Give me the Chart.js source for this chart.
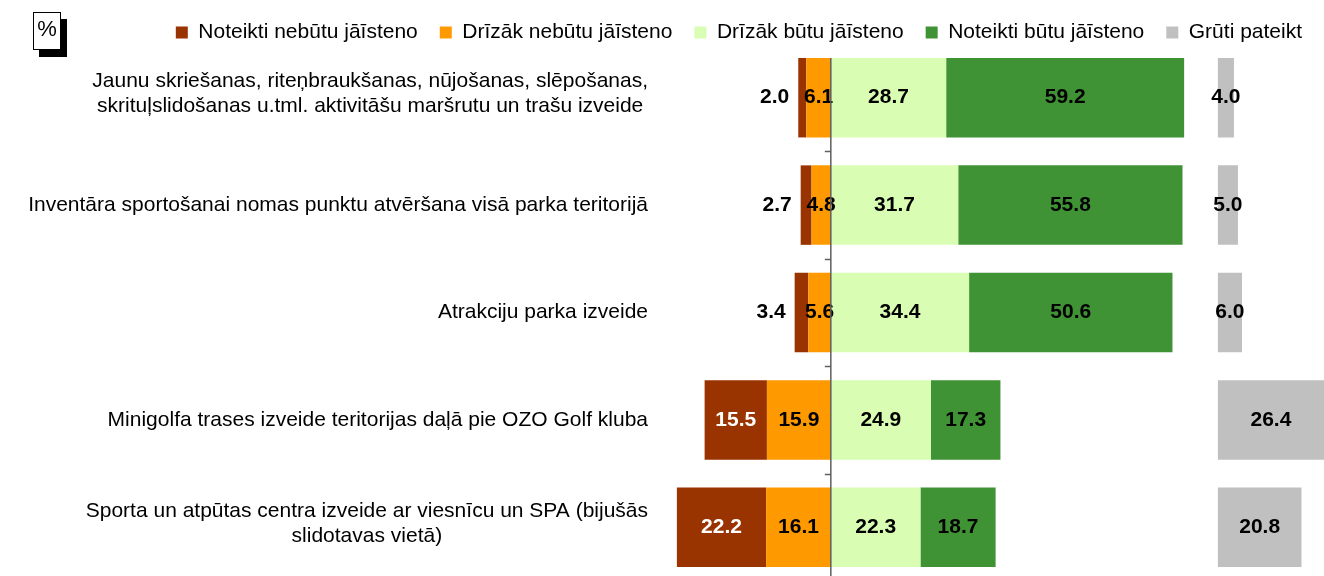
<!DOCTYPE html>
<html>
<head>
<meta charset="utf-8">
<script src="https://cdn.jsdelivr.net/npm/chart.js@4.4.0/dist/chart.umd.min.js"></script>
<style>
  html, body { margin: 0; padding: 0; background: #fff; overflow: hidden; }
  #wrap { width: 1324px; height: 576px; overflow: hidden; }
  #wrap canvas { display: block; }
</style>
</head>
<body>
<div id="wrap"><canvas id="barChart" width="1324" height="581"></canvas></div>
<script>
// kategorijas (pa rindām)
const categories = [
  ['Jaunu skriešanas, riteņbraukšanas, nūjošanas, slēpošanas,', 'skrituļslidošanas u.tml. aktivitāšu maršrutu un trašu izveide'],
  'Inventāra sportošanai nomas punktu atvēršana visā parka teritorijā',
  'Atrakciju parka izveide',
  'Minigolfa trases izveide teritorijas daļā pie OZO Golf kluba',
  ['Sporta un atpūtas centra izveide ar viesnīcu un SPA (bijušās', 'slidotavas vietā)']
];

// vērtības, %
const noteiktiNebutu = [2.0, 2.7, 3.4, 15.5, 22.2];
const drizakNebutu  = [6.1, 4.8, 5.6, 15.9, 16.1];
const drizakButu    = [28.7, 31.7, 34.4, 24.9, 22.3];
const noteiktiButu  = [59.2, 55.8, 50.6, 17.3, 18.7];
const grutiPateikt  = [4.0, 5.0, 6.0, 26.4, 20.8];

const seriesNames = ['Noteikti nebūtu jāīsteno', 'Drīzāk nebūtu jāīsteno', 'Drīzāk būtu jāīsteno', 'Noteikti būtu jāīsteno', 'Grūti pateikt'];

// x ass robežas un "Grūti pateikt" stabiņu nulles punkts
const X_MIN = -42.5, X_MAX = 122.7, GREY_ZERO = 96.3;
const FONT = '"Liberation Sans", Arial, sans-serif';

Chart.defaults.font.family = FONT;
Chart.defaults.color = '#000';

// skaitļi uz stabiņiem
const valueLabels = {
  id: 'valueLabels',
  afterDatasetsDraw(chart) {
    const ctx = chart.ctx;
    ctx.save();
    ctx.font = 'bold 21px ' + FONT;
    ctx.textBaseline = 'middle';
    chart.data.datasets.forEach((ds, di) => {
      chart.getDatasetMeta(di).data.forEach((bar, i) => {
        const txt = Math.abs(ds.data[i]).toFixed(1);
        const left = Math.min(bar.x, bar.base);
        const right = Math.max(bar.x, bar.base);
        const w = ctx.measureText(txt).width;
        if (ds.darkBar && right - left < w) {
          ctx.fillStyle = '#000';
          ctx.textAlign = 'right';
          ctx.fillText(txt, left - 9, bar.y);
        } else {
          ctx.fillStyle = ds.darkBar ? '#fff' : '#000';
          ctx.textAlign = 'center';
          ctx.fillText(txt, (left + right) / 2, bar.y);
        }
      });
    });
    ctx.restore();
  }
};

// nulles ass ar iedaļām
const zeroAxis = {
  id: 'zeroAxis',
  afterDatasetsDraw(chart) {
    const ctx = chart.ctx;
    const yScale = chart.scales.y;
    const x0 = chart.scales.x.getPixelForValue(0);
    const first = chart.getDatasetMeta(0).data[0];
    ctx.save();
    ctx.strokeStyle = '#5f5f5f';
    ctx.lineWidth = 1.5;
    ctx.beginPath();
    ctx.moveTo(x0, first.y - first.height / 2);
    ctx.lineTo(x0, chart.chartArea.bottom);
    for (let i = 1; i < categories.length; i++) {
      const y = Math.round((yScale.getPixelForValue(i - 1) + yScale.getPixelForValue(i)) / 2) + 0.5;
      ctx.moveTo(x0 - 6, y);
      ctx.lineTo(x0, y);
    }
    ctx.stroke();
    ctx.restore();
  }
};

// kategoriju nosaukumi: rindas centrētas, bloks pielīdzināts pa labi
const categoryLabels = {
  id: 'categoryLabels',
  afterDraw(chart) {
    const ctx = chart.ctx;
    const yScale = chart.scales.y;
    const rightEdge = 648, lineH = 25;
    ctx.save();
    ctx.font = '21px ' + FONT;
    ctx.fillStyle = '#000';
    ctx.textBaseline = 'middle';
    ctx.textAlign = 'center';
    categories.forEach((cat, i) => {
      const lines = Array.isArray(cat) ? cat : [cat];
      const blockW = Math.max(...lines.map(l => ctx.measureText(l).width));
      const cx = rightEdge - blockW / 2;
      // divrindu nosaukumi nedaudz augstāk
      const cy = yScale.getPixelForValue(i) - (lines.length > 1 ? 4 : 0);
      lines.forEach((l, j) => {
        ctx.fillText(l, cx, cy + (j - (lines.length - 1) / 2) * lineH);
      });
    });

    // "%" lodziņš ar ēnu
    ctx.fillStyle = '#000';
    ctx.fillRect(39, 19, 28, 38);
    ctx.fillStyle = '#fff';
    ctx.fillRect(33, 12, 28, 38);
    ctx.strokeStyle = '#000';
    ctx.lineWidth = 1;
    ctx.strokeRect(33.5, 12.5, 27, 37);
    ctx.fillStyle = '#000';
    ctx.font = '22px ' + FONT;
    ctx.fillText('%', 47, 30);
    ctx.restore();
  }
};

// leģendas secība
const legendOrder = [1, 0, 2, 3, 4];

new Chart(document.getElementById('barChart'), {
  type: 'bar',
  data: {
    labels: categories,
    datasets: [
      { label: seriesNames[1], data: drizakNebutu.map(v => -v), backgroundColor: '#FF9900' },
      { label: seriesNames[0], data: noteiktiNebutu.map(v => -v), backgroundColor: '#993300', darkBar: true },
      { label: seriesNames[2], data: drizakButu, backgroundColor: '#D9FDB3' },
      { label: seriesNames[3], data: noteiktiButu, backgroundColor: '#409335' },
      { label: seriesNames[4], data: grutiPateikt, backgroundColor: '#C0C0C0', xAxisID: 'x2' }
    ]
  },
  options: {
    indexAxis: 'y',
    responsive: false,
    animation: false,
    devicePixelRatio: 1,
    layout: { padding: 0 },
    datasets: {
      bar: { barPercentage: 0.74, categoryPercentage: 1, borderWidth: 0 }
    },
    scales: {
      x: { type: 'linear', display: false, stacked: true, min: X_MIN, max: X_MAX },
      x2: { type: 'linear', display: false, min: X_MIN - GREY_ZERO, max: X_MAX - GREY_ZERO },
      y: {
        stacked: true,
        grid: { display: false },
        border: { display: false },
        ticks: { display: false },
        afterFit(scale) { scale.width = 660; }
      }
    },
    plugins: {
      legend: {
        position: 'top',
        align: 'end',
        maxHeight: 44,
        labels: {
          boxWidth: 12,
          boxHeight: 12,
          padding: 22,
          color: '#000',
          font: { size: 21 },
          sort: (a, b) => legendOrder[a.datasetIndex] - legendOrder[b.datasetIndex]
        }
      },
      tooltip: { enabled: false }
    }
  },
  plugins: [valueLabels, zeroAxis, categoryLabels]
});
</script>
</body>
</html>
